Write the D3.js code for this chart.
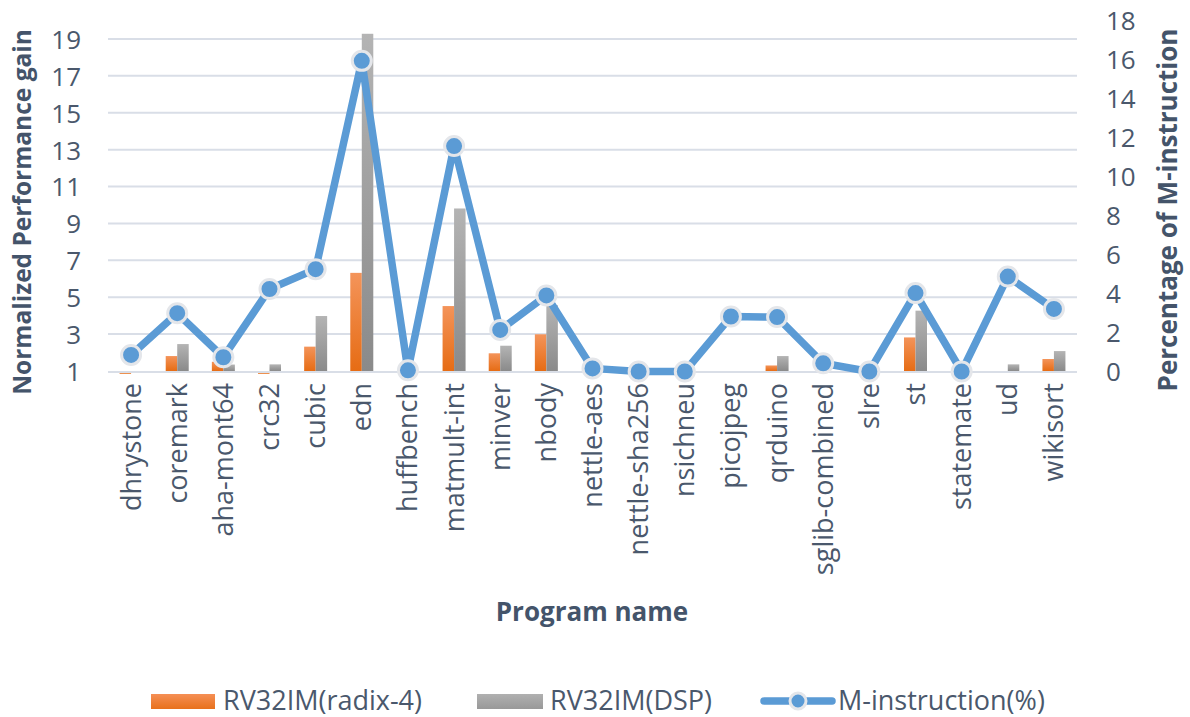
<!DOCTYPE html>
<meta charset="utf-8">
<style>
    body { margin: 0; background: #fff; }
    text { font-family: "Open Sans", sans-serif; fill: #4a586c; }
    .title { font-weight: bold; fill: #44546a; }
    .grid line { stroke: #d9dee7; stroke-width: 2px; }
</style>
<body>
<script src="https://cdn.jsdelivr.net/npm/d3@7"></script>
<script>

    var programs = ["dhrystone", "coremark", "aha-mont64", "crc32", "cubic", "edn", "huffbench",
        "matmult-int", "minver", "nbody", "nettle-aes", "nettle-sha256", "nsichneu", "picojpeg",
        "qrduino", "sglib-combined", "slre", "st", "statemate", "ud", "wikisort"];

    var radix4 = [0.85, 1.81, 1.5, 0.85, 2.32, 6.32, 1.0, 4.52, 1.96, 2.99, 1.0, 1.0, 1.0, 0.9,
        1.3, 0.9, 1.0, 2.82, 0.9, 1.0, 1.65];
    var dsp = [1.0, 2.46, 1.35, 1.36, 3.98, 19.28, 1.0, 9.81, 2.37, 4.57, 1.0, 1.0, 1.0, 1.0,
        1.81, 0.93, 1.0, 4.27, 1.0, 1.36, 2.08];
    var mInstr = [0.85, 2.99, 0.73, 4.23, 5.25, 15.93, 0.06, 11.56, 2.13, 3.9, 0.16, 0.0, 0.0, 2.82,
        2.79, 0.42, 0.0, 4.02, 0.0, 4.87, 3.21];

    var leftTicks = [1, 3, 5, 7, 9, 11, 13, 15, 17, 19];
    var rightTicks = [0, 2, 4, 6, 8, 10, 12, 14, 16, 18];
    var seriesNames = ["RV32IM(radix-4)", "RV32IM(DSP)", "M-instruction(%)"];

    var width = 1190,
            height = 717,
            plotL = 108, plotR = 1077, plotT = 20.5, plotB = 371;

    var svg = d3.select("body").append("svg")
            .attr("width", width)
            .attr("height", height);

    var defs = svg.append("defs");
    function grad(id, c0, c1) {
        var g = defs.append("linearGradient").attr("id", id)
                .attr("x1", 0).attr("y1", 0).attr("x2", 0).attr("y2", 1);
        g.append("stop").attr("offset", "0%").attr("stop-color", c0);
        g.append("stop").attr("offset", "100%").attr("stop-color", c1);
    }
    grad("gOrange", "#f4945a", "#e66c14");
    grad("gGray", "#b4b4b4", "#8a8a8a");
    grad("gOrangeL", "#f58f55", "#e8711c");
    grad("gGrayL", "#b0b0b0", "#999999");

    var x = d3.scaleBand().domain(programs).range([plotL, plotR]);
    var xs = d3.scaleBand().domain([0, 1]).range([-11.5, 11.5]);
    var yL = d3.scaleLinear().domain([1, 20]).range([plotB, plotT]);
    var yR = d3.scaleLinear().domain([0, 18]).range([plotB + 0.5, plotT]);

    // gridlines
    svg.append("g").attr("class", "grid")
            .selectAll("line").data(leftTicks.slice(1)).enter().append("line")
            .attr("x1", plotL).attr("x2", plotR)
            .attr("y1", function(d) { return yL(d); })
            .attr("y2", function(d) { return yL(d); });

    // left axis
    var gl = svg.append("g").attr("transform", "translate(" + 81 + ",0)")
            .call(d3.axisLeft(yL).tickValues(leftTicks).tickSize(0).tickPadding(0));
    gl.select(".domain").remove();
    gl.selectAll("text").style("font-size", "26px").style("font-family", "Open Sans")
            .attr("fill", "#4a586c").attr("dy", "0.36em");

    // right axis
    var gr = svg.append("g").attr("transform", "translate(" + 1106 + ",0)")
            .call(d3.axisRight(yR).tickValues(rightTicks).tickSize(0).tickPadding(0));
    gr.select(".domain").remove();
    gr.selectAll("text").style("font-size", "26px").style("font-family", "Open Sans")
            .attr("fill", "#4a586c").attr("dy", "0.36em");

    // bars
    var bars = svg.append("g");
    [radix4, dsp].forEach(function(vals, s) {
        bars.selectAll(".b" + s).data(vals).enter().append("rect")
                .attr("class", "b" + s)
                .attr("x", function(d, i) { return x(programs[i]) + x.bandwidth() / 2 + xs(s); })
                .attr("width", xs.bandwidth())
                .attr("y", function(d) { return Math.min(yL(d), yL(1)); })
                .attr("height", function(d) { return Math.max(Math.abs(yL(d) - yL(1)), d < 1 ? 2 : 0); })
                .attr("fill", s ? "url(#gGray)" : "url(#gOrange)");
    });

    // category axis line
    svg.append("line").attr("x1", plotL).attr("x2", plotR)
            .attr("y1", plotB + 1).attr("y2", plotB + 1)
            .attr("stroke", "#d9dee7").attr("stroke-width", 2);

    // line series
    var line = d3.line()
            .x(function(d, i) { return x(programs[i]) + x.bandwidth() / 2; })
            .y(function(d) { return yR(d); });
    svg.append("path").datum(mInstr)
            .attr("d", line)
            .attr("fill", "none")
            .attr("stroke", "#5b9bd5")
            .attr("stroke-width", 7.5)
            .attr("stroke-linejoin", "round");
    svg.selectAll(".pt").data(mInstr).enter().append("circle")
            .attr("class", "pt")
            .attr("cx", function(d, i) { return x(programs[i]) + x.bandwidth() / 2; })
            .attr("cy", function(d) { return yR(d); })
            .attr("r", 9.5)
            .attr("fill", "#5b9bd5")
            .attr("stroke", "#e4e6ea")
            .attr("stroke-width", 3);

    // category labels
    svg.selectAll(".cat").data(programs).enter().append("text")
            .attr("class", "cat")
            .attr("transform", function(d) {
                return "translate(" + (x(d) + x.bandwidth() / 2) + "," + 383 + ")rotate(-90)";
            })
            .attr("text-anchor", "end")
            .attr("dy", "0.35em")
            .style("font-size", "27px")
            .text(function(d) { return d; });

    // axis titles
    svg.append("text").attr("class", "title")
            .attr("transform", "translate(22,212)rotate(-90)")
            .attr("text-anchor", "middle").attr("dy", "0.35em")
            .style("font-size", "24.5px")
            .text("Normalized Performance gain");
    svg.append("text").attr("class", "title")
            .attr("transform", "translate(1168,210)rotate(-90)")
            .attr("text-anchor", "middle").attr("dy", "0.35em")
            .style("font-size", "26px")
            .text("Percentage of M-instruction");
    svg.append("text").attr("class", "title")
            .attr("x", 592).attr("y", 612)
            .attr("text-anchor", "middle").attr("dy", "0.35em")
            .style("font-size", "26px")
            .text("Program name");

    // legend
    var lg = svg.append("g");
    lg.append("rect").attr("x", 151).attr("y", 694).attr("width", 64).attr("height", 15)
            .attr("fill", "url(#gOrangeL)");
    lg.append("rect").attr("x", 477).attr("y", 694).attr("width", 66).attr("height", 15)
            .attr("fill", "url(#gGrayL)");
    lg.append("line").attr("x1", 764).attr("x2", 832).attr("y1", 701).attr("y2", 701)
            .attr("stroke", "#5b9bd5").attr("stroke-width", 7.5).attr("stroke-linecap", "round");
    lg.append("circle").attr("cx", 798).attr("cy", 701).attr("r", 8)
            .attr("fill", "#5b9bd5").attr("stroke", "#e4e6ea").attr("stroke-width", 3);
    lg.selectAll(".lt").data(seriesNames).enter().append("text")
            .attr("class", "lt")
            .attr("x", function(d, i) { return [223, 550, 838][i]; })
            .attr("y", 701).attr("dy", "0.35em")
            .style("font-size", "27px")
            .text(function(d) { return d; });

</script>
</body>
</html>
